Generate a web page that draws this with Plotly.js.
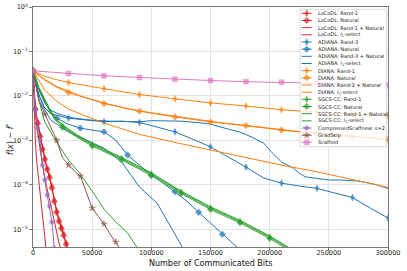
<!DOCTYPE html>
<html><head><meta charset="utf-8">
<script src="https://cdn.plot.ly/plotly-3.0.1.min.js"></script>
<style>html,body{margin:0;padding:0;background:#fff}#chart{width:407px;height:271px}</style>
</head><body><div id="chart"></div>
<script>
// ---------- data: x = communicated bits, y = f(x) - f* ----------
const locodlRand1X = [0,1000,2000,4000,6000,8000,10000,12000,14000,16000,18000,20000,22000,24000,26000,28000,30000];
const locodlRand1Y = [0.0365,0.0104,0.00529,0.00257,0.00131,0.000668,0.000398,0.000237,0.000157,0.0000935,0.0000453,0.0000257,0.0000161,0.0000112,0.0000078,0.0000049,0.0000032];
const locodlNaturalX = [0,1000,2000,4000,6000,8000,10000,12000,14000,16000,18000,20000,22000,24000,26000,28000,30000];
const locodlNaturalY = [0.0365,0.0098,0.0050,0.0024,0.00122,0.00062,0.00037,0.00022,0.000145,0.000085,0.000042,0.000024,0.000015,0.0000104,0.0000072,0.0000046,0.0000030];
const locodlRandNatX = [0,1000,2000,3000,4000,5000,6000,7000,8000,9000,10000,11000];
const locodlRandNatY = [0.0365,0.00477,0.00101,0.000359,0.000193,0.000109,0.0000686,0.0000368,0.0000208,0.0000118,0.00000668,0.00000378];
const locodlL1X = [0,1000,2000,4000,6000,8000,10000,12000,14000,16000,18000,20000,22000,24000];
const locodlL1Y = [0.0365,0.0080,0.00368,0.00153,0.000602,0.000277,0.000142,0.000076,0.0000453,0.000027,0.0000145,0.00000865,0.0000049,0.0000032];

const adianaRand3X = [0,2500,6000,10000,15000,20000,30000,45000,60000,75000,90000,105000,120000,135000,150000,165000,180000,195000,210000,225000,240000,255000,270000,285000,300000];
const adianaRand3Y = [0.0365,0.0174,0.00888,0.00529,0.00409,0.00368,0.00315,0.00284,0.00261,0.0027,0.00252,0.00198,0.00155,0.00106,0.000714,0.000419,0.00025,0.000142,0.000109,0.0000935,0.000083,0.0000651,0.0000516,0.0000299,0.0000179];
const adianaNaturalX = [0,5000,10000,20000,30000,40000,50000,60000,70000,80000,90000,100000,110000,120000,130000,140000,150000,160000,170000,175000];
const adianaNaturalY = [0.0365,0.01037,0.00529,0.00315,0.00231,0.00188,0.0017,0.00155,0.00101,0.000465,0.000277,0.000165,0.000109,0.0000697,0.000043,0.000024,0.0000138,0.00000768,0.0000044,0.00000341];
const adianaRandNatX = [0,5000,15000,30000,45000,60000,75000,90000,105000,120000,130000];
const adianaRandNatY = [0.0365,0.008,0.00284,0.00153,0.00101,0.000668,0.000324,0.0000887,0.0000382,0.0000074,0.00000263];
const adianaL1X = [0,5000,10000,15000,20000,25000,35000,50000,65000,75000,90000,100000,110000,125000,140000,150000,165000,175000,185000,195000,200000,210000,220000,225000,230000,240000,250000,260000,270000,275000,280000,290000,300000];
const adianaL1Y = [0.0365,0.01343,0.00686,0.00477,0.00409,0.00368,0.00315,0.00284,0.0027,0.00263,0.00261,0.00277,0.0027,0.0027,0.0025,0.00231,0.00179,0.00153,0.00118,0.000865,0.000602,0.000324,0.000237,0.000183,0.000151,0.000138,0.000128,0.000128,0.000124,0.000121,0.000115,0.000101,0.0000822];

const dianaRand1X = [0,10000,20000,30000,60000,90000,120000,150000,180000,210000,240000,270000,300000];
const dianaRand1Y = [0.0365,0.0277,0.0231,0.0200,0.0145,0.01075,0.00857,0.00696,0.00592,0.00486,0.00432,0.00394,0.00363];
const dianaNaturalX = [0,10000,20000,30000,60000,90000,120000,150000,180000,210000,240000,270000,300000];
const dianaNaturalY = [0.0365,0.02254,0.0157,0.0119,0.00675,0.00453,0.00337,0.0026,0.00214,0.0017,0.00143,0.00121,0.00105];
const dianaRandNatX = [0,10000,20000,30000,60000,90000,120000,150000,180000,210000,240000,270000,300000];
const dianaRandNatY = [0.0365,0.01343,0.0076,0.00502,0.00244,0.00136,0.000897,0.000602,0.000413,0.000277,0.000196,0.000132,0.0000875];
const dianaL1X = [0,10000,20000,40000,60000,80000,100000,120000,140000,160000,180000,200000,220000,240000,260000,280000,300000];
const dianaL1Y = [0.0365,0.02344,0.01622,0.0100,0.00692,0.00513,0.00417,0.00347,0.00288,0.00245,0.00216,0.00186,0.00162,0.00145,0.00129,0.00115,0.00105];

const sgcsRand1X = [0,5000,10000,15000,20000,25000,37500,50000,75000,100000,125000,150000,175000,200000,225000];
const sgcsRand1Y = [0.0365,0.0149,0.0080,0.0043,0.00284,0.00209,0.00124,0.0008,0.000388,0.000174,0.0000686,0.0000299,0.0000149,0.00000668,0.00000263];
const sgcsNaturalX = [0,5000,10000,15000,20000,25000,37500,50000,75000,100000,125000,150000,175000,200000,225000];
const sgcsNaturalY = [0.0365,0.0144,0.0076,0.0041,0.00268,0.00197,0.00116,0.00075,0.000362,0.000162,0.0000638,0.0000278,0.0000139,0.0000062,0.00000245];
const sgcsRandNatX = [0,5000,10000,20000,30000,40000,50000,60000,70000,80000,90000];
const sgcsRandNatY = [0.0365,0.0080,0.00257,0.000911,0.000359,0.000174,0.0000722,0.0000284,0.0000145,0.0000082,0.0000032];
const sgcsL1X = [0,5000,10000,15000,20000,25000,37500,50000,75000,100000,125000,150000,175000,200000,225000];
const sgcsL1Y = [0.0365,0.0155,0.0084,0.0046,0.00302,0.00222,0.00132,0.00085,0.000412,0.000185,0.0000728,0.0000318,0.0000158,0.0000071,0.0000028];

const cscaffX = [0,1000,2000,3000,4000,5000,6000,7000,8000,9000,10000,11000,12000,13000,14000,15000,16000,17000,18000];
const cscaffY = [0.0365,0.01037,0.00477,0.00284,0.00188,0.00131,0.00101,0.000465,0.000277,0.000193,0.000128,0.0000843,0.0000587,0.0000453,0.0000332,0.0000231,0.0000145,0.0000074,0.00000378];
const gradskipX = [0,5000,10000,15000,20000,25000,30000,35000,40000,45000,50000,55000,60000,65000,70000,75000];
const gradskipY = [0.0365,0.0080,0.00388,0.00198,0.00101,0.000398,0.000277,0.000203,0.000157,0.0000686,0.0000299,0.0000198,0.0000131,0.0000078,0.00000515,0.0000032];
const scaffoldX = [0,30000,60000,90000,120000,150000,180000,210000,240000,270000,300000];
const scaffoldY = [0.0365,0.0319,0.0284,0.0259,0.0237,0.0222,0.0209,0.0203,0.0193,0.0183,0.0174];

const xTicks = [0,50000,100000,150000,200000,250000,300000];
const yTickVals = [1,0.1,0.01,0.001,0.0001,0.00001];
const yTickText = ['10<sup>0</sup>','10<sup>−1</sup>','10<sup>−2</sup>','10<sup>−3</sup>','10<sup>−4</sup>','10<sup>−5</sup>'];
const l1 = '<i>l</i><sub>1</sub>-select';

// ---------- styles ----------
const RED='#d62728', BLUE='#1f77b4', ORANGE='#ff7f0e', GREEN='#2ca02c', PURPLE='#9467bd', BROWN='#8c564b', PINK='#e377c2';
const series = [
  {name:'LoCoDL: Rand-1', x:locodlRand1X, y:locodlRand1Y, c:RED, sym:'diamond-tall', step:2000},
  {name:'LoCoDL: Natural', x:locodlNaturalX, y:locodlNaturalY, c:RED, sym:'diamond', step:2000},
  {name:'LoCoDL: Rand-1 + Natural', x:locodlRandNatX, y:locodlRandNatY, c:RED, sym:'diamond-open', step:1000},
  {name:'LoCoDL: '+l1, x:locodlL1X, y:locodlL1Y, c:RED, sym:'x-thin-open', step:2000},
  {name:'ADIANA: Rand-3', x:adianaRand3X, y:adianaRand3Y, c:BLUE, sym:'diamond-tall', step:30000},
  {name:'ADIANA: Natural', x:adianaNaturalX, y:adianaNaturalY, c:BLUE, sym:'diamond', step:20000},
  {name:'ADIANA: Rand-3 + Natural', x:adianaRandNatX, y:adianaRandNatY, c:BLUE, sym:'diamond-open', step:15000},
  {name:'ADIANA: '+l1, x:adianaL1X, y:adianaL1Y, c:BLUE, sym:'x-thin-open', step:25000},
  {name:'DIANA: Rand-1', x:dianaRand1X, y:dianaRand1Y, c:ORANGE, sym:'diamond-tall', step:30000},
  {name:'DIANA: Natural', x:dianaNaturalX, y:dianaNaturalY, c:ORANGE, sym:'diamond', step:30000},
  {name:'DIANA: Rand-1 + Natural', x:dianaRandNatX, y:dianaRandNatY, c:ORANGE, sym:'diamond-open', step:30000},
  {name:'DIANA: '+l1, x:dianaL1X, y:dianaL1Y, c:ORANGE, sym:'x-thin-open', step:20000},
  {name:'SGCS-CC: Rand-1', x:sgcsRand1X, y:sgcsRand1Y, c:GREEN, sym:'diamond-tall', step:25000},
  {name:'SGCS-CC: Natural', x:sgcsNaturalX, y:sgcsNaturalY, c:GREEN, sym:'diamond', step:25000},
  {name:'SGCS-CC: Rand-1 + Natural', x:sgcsRandNatX, y:sgcsRandNatY, c:GREEN, sym:'diamond-open', step:10000},
  {name:'SGCS-CC: '+l1, x:sgcsL1X, y:sgcsL1Y, c:GREEN, sym:'x-thin-open', step:25000},
  {name:'CompressedScaffnew: s=2', x:cscaffX, y:cscaffY, c:PURPLE, sym:'pentagon', step:2000},
  {name:'GradSkip', x:gradskipX, y:gradskipY, c:BROWN, sym:'star', step:10000},
  {name:'Scaffold', x:scaffoldX, y:scaffoldY, c:PINK, sym:'square', step:30000}
];
const MS = 5;
function isMarked(x, step){ const r = x/step; return Math.abs(r - Math.round(r)) < 1e-9; }
function markerStyle(s, sizes){
  const open = /open/.test(s.sym);
  return {symbol:s.sym, size:sizes, color: open ? 'rgba(0,0,0,0)' : s.c,
          line:{color:s.c, width: open ? 0.9 : 0.5}};
}

const traces = series.map(s => ({
  type:'scatter', mode:'lines+markers', x:s.x, y:s.y, name:s.name, showlegend:false,
  line:{color:s.c, width:1}, marker: markerStyle(s, s.x.map(v => isMarked(v, s.step) ? MS : 0)),
  hoverinfo:'skip'
}));

// ---------- custom legend (overlay axes in pixel units of the plot area) ----------
const PW = 355, PH = 240;
const LG = {x0:267, x1:353.5, y0:2.3, y1:139.7, row0:6.3, dy:7.17, symA:268.7, symB:278.7, text:283};
traces.push({type:'scatter', mode:'lines', xaxis:'x2', yaxis:'y2', showlegend:false, hoverinfo:'skip',
  x:[LG.x0,LG.x1,LG.x1,LG.x0,LG.x0], y:[LG.y0,LG.y0,LG.y1,LG.y1,LG.y0], fill:'toself',
  fillcolor:'rgba(255,255,255,0.8)', line:{color:'#d0d0d0', width:0.8}});
const annotations = [];
series.forEach((s, i) => {
  const ly = LG.row0 + i*LG.dy;
  const xm = (LG.symA + LG.symB)/2;
  traces.push({type:'scatter', mode:'lines+markers', xaxis:'x2', yaxis:'y2', showlegend:false, hoverinfo:'skip',
    x:[LG.symA, xm, LG.symB], y:[ly, ly, ly], line:{color:s.c, width:1}, marker: markerStyle(s, [0, MS, 0])});
  annotations.push({xref:'x2', yref:'y2', x:LG.text, y:ly, text:s.name, showarrow:false,
    xanchor:'left', yanchor:'middle', font:{family:'DejaVu Sans', size:5, color:'#222'}});
});
annotations.push({xref:'paper', yref:'paper', x:0.5, y:-0.069, text:'Number of Communicated Bits', showarrow:false,
  xanchor:'center', yanchor:'middle', font:{family:'DejaVu Sans', size:8, color:'#111'}});
annotations.push({xref:'paper', yref:'paper', x:-0.065, y:0.45, text:'<i>f</i>(<i>x</i>) − <i>f</i><sup>*</sup>', showarrow:false,
  textangle:-90, xanchor:'center', yanchor:'middle', font:{family:'DejaVu Sans', size:8, color:'#111'}});

const layout = {
  width:407, height:271, margin:{l:33, r:19, t:7, b:24},
  paper_bgcolor:'#fff', plot_bgcolor:'#fff', showlegend:false,
  font:{family:'DejaVu Sans', size:6.5, color:'#222'},
  xaxis:{range:[0,300000], tickvals:xTicks, tickformat:'d', showgrid:true, gridcolor:'#e3e3e3', gridwidth:1,
    zeroline:false, showline:true, mirror:true, linecolor:'#555', linewidth:0.8,
    ticks:'outside', ticklen:3, tickwidth:0.8, tickcolor:'#555', tickfont:{size:6.5}, ticklabelstandoff:-4},
  yaxis:{type:'log', range:[-5.40, 0], tickvals:yTickVals, ticktext:yTickText, showgrid:true, gridcolor:'#e3e3e3', gridwidth:1,
    zeroline:false, showline:true, mirror:true, linecolor:'#555', linewidth:0.8,
    ticks:'outside', ticklen:3, tickwidth:0.8, tickcolor:'#555', tickfont:{size:6.5}},
  xaxis2:{overlaying:'x', anchor:'y2', range:[0,PW], visible:false, fixedrange:true},
  yaxis2:{overlaying:'y', anchor:'x2', range:[PH,0], visible:false, fixedrange:true},
  annotations: annotations
};
Plotly.newPlot('chart', traces, layout, {staticPlot:true, displayModeBar:false});
</script></body></html>
